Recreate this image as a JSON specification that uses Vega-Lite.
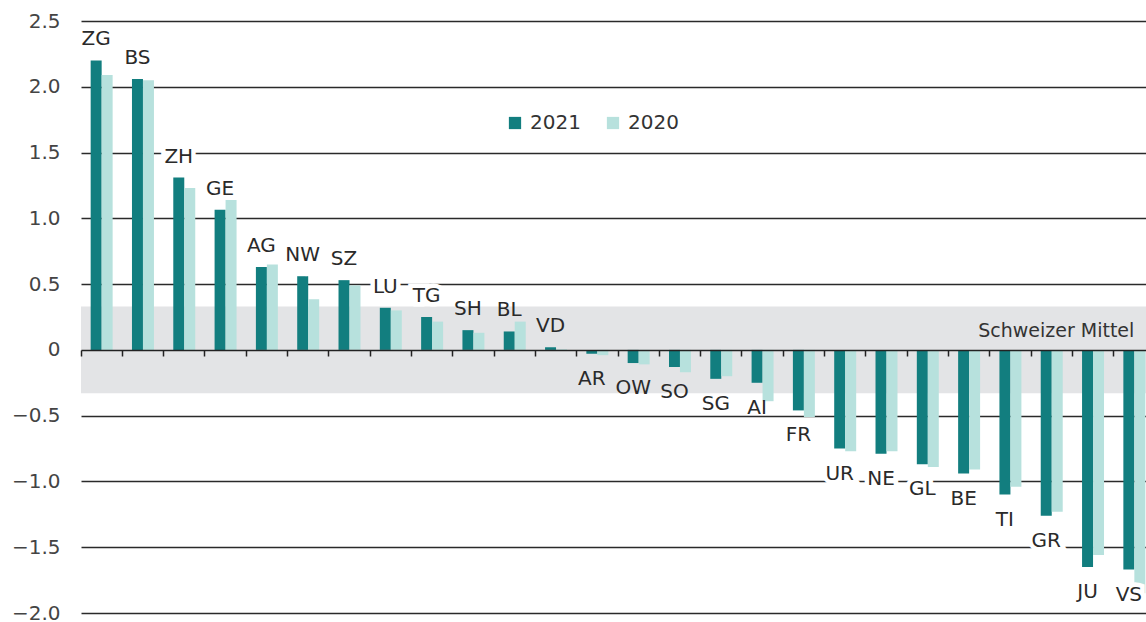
{
  "$schema": "https://vega.github.io/schema/vega-lite/v6.json",
  "width": 1065,
  "height": 592,
  "autosize": {"type": "none"},
  "padding": {"left": 81, "top": 21, "right": 0, "bottom": 9},
  "background": "white",
  "config": {
    "view": {"stroke": null},
    "font": "DejaVu Sans",
    "text": {"font": "DejaVu Sans"}
  },
  "datasets": {
    "vals": [
      {"canton": "ZG", "year": "2021", "value": 2.20}, {"canton": "ZG", "year": "2020", "value": 2.09},
      {"canton": "BS", "year": "2021", "value": 2.06}, {"canton": "BS", "year": "2020", "value": 2.05},
      {"canton": "ZH", "year": "2021", "value": 1.31}, {"canton": "ZH", "year": "2020", "value": 1.23},
      {"canton": "GE", "year": "2021", "value": 1.065}, {"canton": "GE", "year": "2020", "value": 1.14},
      {"canton": "AG", "year": "2021", "value": 0.63}, {"canton": "AG", "year": "2020", "value": 0.65},
      {"canton": "NW", "year": "2021", "value": 0.56}, {"canton": "NW", "year": "2020", "value": 0.385},
      {"canton": "SZ", "year": "2021", "value": 0.53}, {"canton": "SZ", "year": "2020", "value": 0.49},
      {"canton": "LU", "year": "2021", "value": 0.32}, {"canton": "LU", "year": "2020", "value": 0.30},
      {"canton": "TG", "year": "2021", "value": 0.25}, {"canton": "TG", "year": "2020", "value": 0.215},
      {"canton": "SH", "year": "2021", "value": 0.15}, {"canton": "SH", "year": "2020", "value": 0.13},
      {"canton": "BL", "year": "2021", "value": 0.14}, {"canton": "BL", "year": "2020", "value": 0.215},
      {"canton": "VD", "year": "2021", "value": 0.02}, {"canton": "VD", "year": "2020", "value": 0.005},
      {"canton": "AR", "year": "2021", "value": -0.03}, {"canton": "AR", "year": "2020", "value": -0.04},
      {"canton": "OW", "year": "2021", "value": -0.10}, {"canton": "OW", "year": "2020", "value": -0.11},
      {"canton": "SO", "year": "2021", "value": -0.13}, {"canton": "SO", "year": "2020", "value": -0.17},
      {"canton": "SG", "year": "2021", "value": -0.22}, {"canton": "SG", "year": "2020", "value": -0.20},
      {"canton": "AI", "year": "2021", "value": -0.25}, {"canton": "AI", "year": "2020", "value": -0.39},
      {"canton": "FR", "year": "2021", "value": -0.46}, {"canton": "FR", "year": "2020", "value": -0.51},
      {"canton": "UR", "year": "2021", "value": -0.75}, {"canton": "UR", "year": "2020", "value": -0.77},
      {"canton": "NE", "year": "2021", "value": -0.79}, {"canton": "NE", "year": "2020", "value": -0.77},
      {"canton": "GL", "year": "2021", "value": -0.87}, {"canton": "GL", "year": "2020", "value": -0.89},
      {"canton": "BE", "year": "2021", "value": -0.94}, {"canton": "BE", "year": "2020", "value": -0.91},
      {"canton": "TI", "year": "2021", "value": -1.10}, {"canton": "TI", "year": "2020", "value": -1.04},
      {"canton": "GR", "year": "2021", "value": -1.26}, {"canton": "GR", "year": "2020", "value": -1.23},
      {"canton": "JU", "year": "2021", "value": -1.65}, {"canton": "JU", "year": "2020", "value": -1.56},
      {"canton": "VS", "year": "2021", "value": -1.67}, {"canton": "VS", "year": "2020", "value": -1.85}
    ],
    "band": [{"lo": -0.33, "hi": 0.33, "label": "Schweizer Mittel", "pos": "VS", "ly": 0.1}]
  },
  "layer": [
    {
      "data": {"name": "band"},
      "mark": {"type": "rect", "color": "#e3e4e6"},
      "encoding": {
        "y": {"field": "lo", "type": "quantitative", "scale": {"domain": [-2, 2.5], "nice": false, "zero": false}},
        "y2": {"field": "hi"}
      }
    },
    {
      "data": {"name": "vals"},
      "mark": {"type": "bar"},
      "encoding": {
        "x": {
          "field": "canton", "type": "nominal",
          "scale": {
            "domain": ["ZG","BS","ZH","GE","AG","NW","SZ","LU","TG","SH","BL","VD","AR","OW","SO","SG","AI","FR","UR","NE","GL","BE","TI","GR","JU","VS"],
            "range": [0, 1074], "paddingInner": 0, "paddingOuter": 0
          },
          "axis": {
            "title": null, "labels": false, "domain": true, "domainColor": "#222222", "domainWidth": 1.5,
            "ticks": true, "tickColor": "#222222", "tickSize": 6, "tickWidth": 1.5, "bandPosition": 0,
            "offset": -263, "zindex": 1, "grid": false
          }
        },
        "xOffset": {
          "field": "year", "type": "nominal",
          "scale": {"domain": ["2021", "2020"], "paddingInner": 0, "paddingOuter": 0.88}
        },
        "y": {
          "field": "value", "type": "quantitative",
          "scale": {"domain": [-2, 2.5], "nice": false, "zero": false},
          "axis": {
            "title": null, "values": [-2, -1.5, -1, -0.5, 0, 0.5, 1, 1.5, 2, 2.5],
            "labelExpr": "datum.value == 0 ? '0' : format(datum.value, '.1f')",
            "ticks": false, "domain": false, "labelPadding": 21, "labelFontSize": 20,
            "labelColor": "#444444", "labelFont": "DejaVu Sans",
            "grid": true, "gridColor": "#2a2a2a", "gridWidth": 1.5, "gridOpacity": 1
          }
        },
        "color": {
          "field": "year", "type": "nominal",
          "scale": {"domain": ["2021", "2020"], "range": ["#127e7f", "#b7e1dd"]},
          "legend": {
            "title": null, "orient": "none", "direction": "horizontal",
            "legendX": 424, "legendY": 92, "symbolType": "square", "symbolSize": 150,
            "symbolStrokeWidth": 0, "labelFontSize": 20, "labelFont": "DejaVu Sans", "labelColor": "#333333",
            "labelOffset": 5, "columnPadding": 22, "padding": 0
          }
        }
      }
    },
    {
      "data": {"name": "band"},
      "mark": {"type": "text", "align": "right", "baseline": "alphabetic", "fontSize": 19, "color": "#333333"},
      "encoding": {
        "x": {"field": "pos", "type": "nominal"},
        "y": {"field": "ly", "type": "quantitative"},
        "text": {"field": "label"}
      }
    },
    {
      "data": {"name": "vals"},
      "transform": [{"filter": "datum.year == '2021' && datum.value >= 0.2"}],
      "mark": {"type": "text", "baseline": "bottom", "dy": -11, "fontSize": 20, "stroke": "white", "strokeWidth": 9, "strokeJoin": "miter", "color": "white"},
      "encoding": {
        "x": {"field": "canton", "type": "nominal"},
        "xOffset": {"field": "year", "type": "nominal"},
        "y": {"field": "value", "type": "quantitative"},
        "text": {"field": "canton"}
      }
    },
    {
      "data": {"name": "vals"},
      "transform": [{"filter": "datum.year == '2021' && datum.value <= -0.3"}],
      "mark": {"type": "text", "baseline": "top", "dy": 15, "fontSize": 20, "stroke": "white", "strokeWidth": 9, "strokeJoin": "miter", "color": "white"},
      "encoding": {
        "x": {"field": "canton", "type": "nominal"},
        "xOffset": {"field": "year", "type": "nominal"},
        "y": {"field": "value", "type": "quantitative"},
        "text": {"field": "canton"}
      }
    },
    {
      "data": {"name": "vals"},
      "transform": [{"filter": "datum.year == '2021' && datum.value >= 0"}],
      "mark": {"type": "text", "baseline": "bottom", "dy": -11, "fontSize": 20, "color": "#2a2a2a"},
      "encoding": {
        "x": {"field": "canton", "type": "nominal"},
        "xOffset": {"field": "year", "type": "nominal"},
        "y": {"field": "value", "type": "quantitative"},
        "text": {"field": "canton"}
      }
    },
    {
      "data": {"name": "vals"},
      "transform": [{"filter": "datum.year == '2021' && datum.value < 0"}],
      "mark": {"type": "text", "baseline": "top", "dy": 15, "fontSize": 20, "color": "#2a2a2a"},
      "encoding": {
        "x": {"field": "canton", "type": "nominal"},
        "xOffset": {"field": "year", "type": "nominal"},
        "y": {"field": "value", "type": "quantitative"},
        "text": {"field": "canton"}
      }
    }
  ]
}
